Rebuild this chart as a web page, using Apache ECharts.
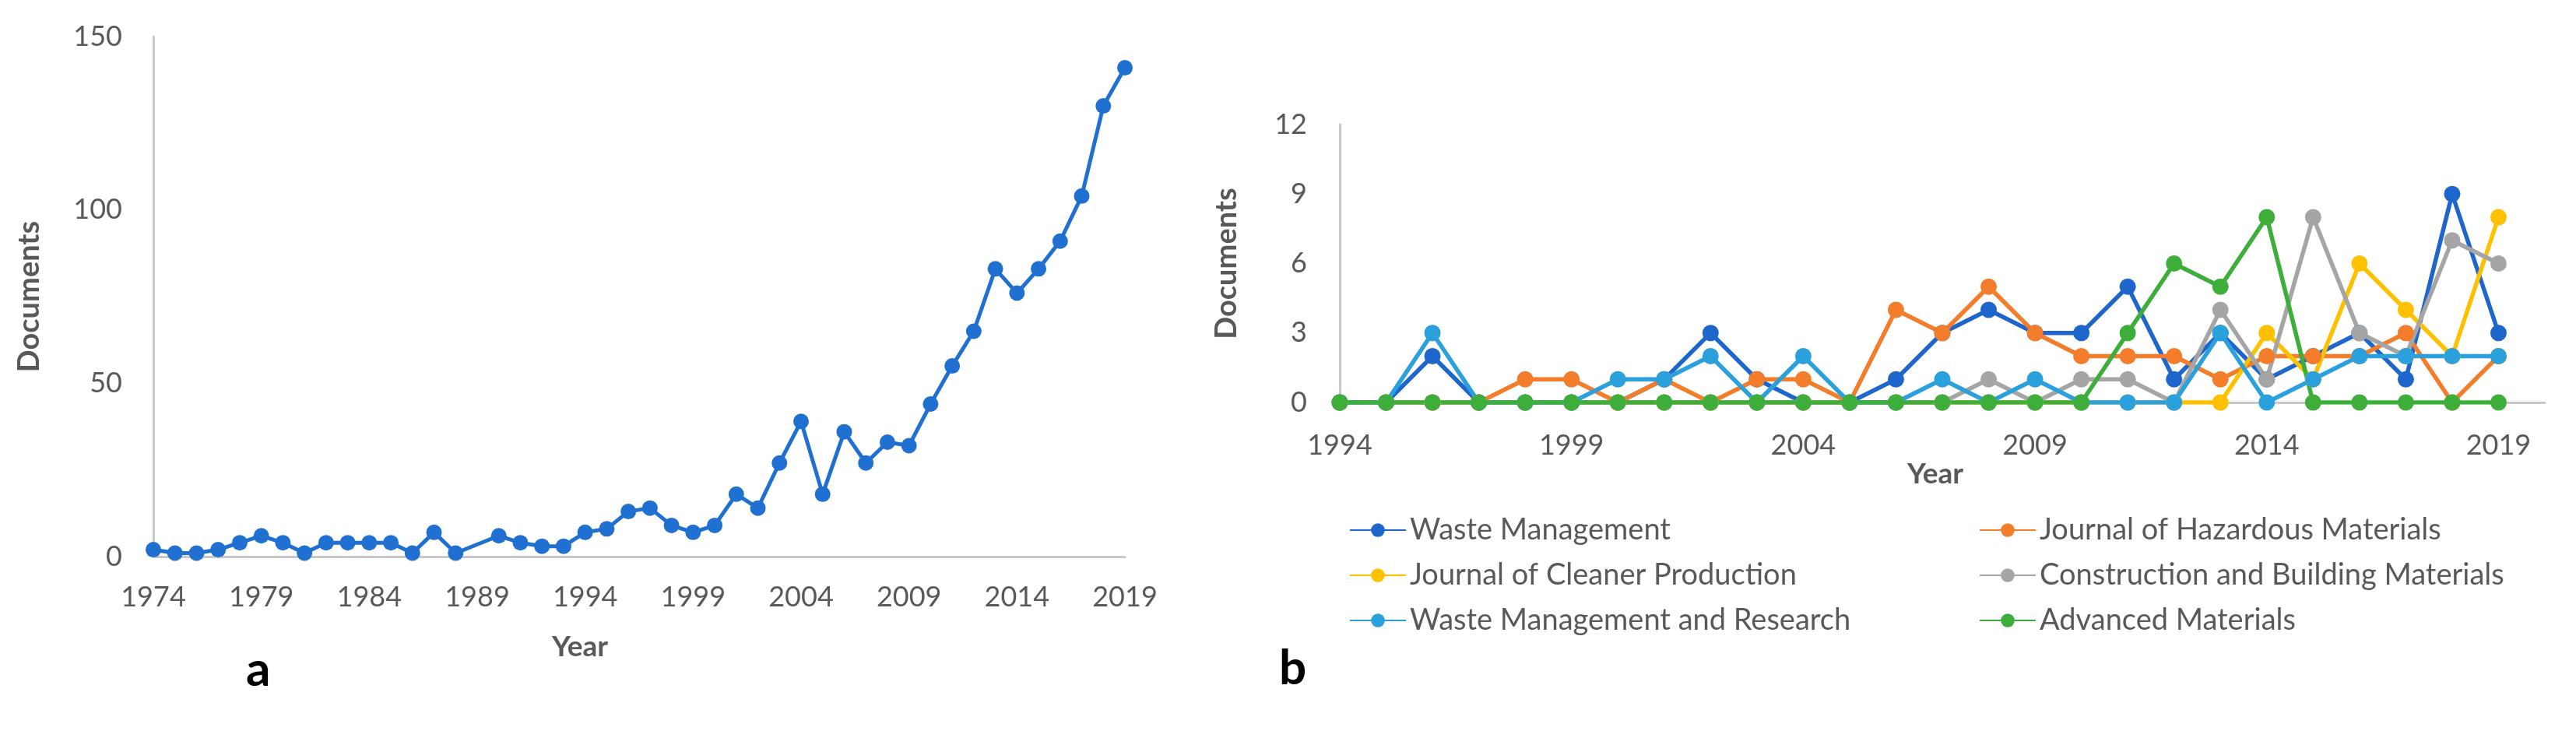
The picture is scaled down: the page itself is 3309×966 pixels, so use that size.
<!DOCTYPE html>
<html>
<head>
<meta charset="utf-8">
<script src="https://cdn.jsdelivr.net/npm/echarts@6/dist/echarts.min.js"></script>
<style>
html,body{margin:0;padding:0;background:#fff;}
#main{width:3309px;height:966px;}
</style>
</head>
<body>
<div id="main"></div>
<script>
// ---- Panel a: documents per year ----
var yearsA = [];
for (var y = 1974; y <= 2019; y++) yearsA.push(String(y));
var docsA = [2,1,1,2,4,6,4,1,4,4,4,4,1,7,1,null,6,4,3,3,7,8,13,14,9,7,9,18,14,27,39,18,36,27,33,32,44,55,65,83,76,83,91,104,130,141];

// ---- Panel b: documents per journal per year ----
var yearsB = [];
for (var y2 = 1994; y2 <= 2020; y2++) yearsB.push(String(y2));
var seriesNames = ['Waste Management','Journal of Hazardous Materials','Journal of Cleaner Production','Construction and Building Materials','Waste Management and Research','Advanced Materials'];
var wasteManagement   = [0,0,2,0,0,0,0,1,3,1,0,0,1,3,4,3,3,5,1,3,1,2,3,1,9,3];
var hazardousMat      = [0,0,0,0,1,1,0,1,0,1,1,0,4,3,5,3,2,2,2,1,2,2,2,3,0,2];
var cleanerProduction = [0,0,0,0,0,0,0,0,0,0,0,0,0,0,0,0,0,0,0,0,3,1,6,4,2,8];
var constructionMat   = [0,0,0,0,0,0,0,0,0,0,0,0,0,0,1,0,1,1,0,4,1,8,3,2,7,6];
var wasteMgmtResearch = [0,0,3,0,0,0,1,1,2,0,2,0,0,1,0,1,0,0,0,3,0,1,2,2,2,2];
var advancedMat       = [0,0,0,0,0,0,0,0,0,0,0,0,0,0,0,0,0,3,6,5,8,0,0,0,0,0];
var dataB = [wasteManagement, hazardousMat, cleanerProduction, constructionMat, wasteMgmtResearch, advancedMat];
var colorsB = ['#1f66cc','#f47d2b','#ffc000','#a5a5a5','#2aa0dd','#3dae3a'];

var FONT = 'Lato, "Open Sans", sans-serif';
var GREY = '#595959';
var AXIS = '#c8c8c8';

var chart = echarts.init(document.getElementById('main'), null, {renderer:'canvas'});

var seriesB = seriesNames.map(function(n, i){
  return {
    name: n, type: 'line', xAxisIndex: 1, yAxisIndex: 1,
    data: dataB[i], symbol: 'circle', symbolSize: 21, showAllSymbol: true,
    lineStyle: {width: 5.5, color: colorsB[i]},
    itemStyle: {color: colorsB[i]},
    animation: false
  };
});

var option = {
  backgroundColor: '#fff',
  animation: false,
  textStyle: {fontFamily: FONT},
  grid: [
    {left: 197, top: 47, width: 1248, height: 668, containLabel: false},
    {left: 1721, top: 160, width: 1548, height: 357, containLabel: false}
  ],
  xAxis: [
    {
      gridIndex: 0, type: 'category', data: yearsA, boundaryGap: false,
      axisLine: {lineStyle: {color: AXIS, width: 3}},
      axisTick: {show: false},
      axisLabel: {interval: 4, color: GREY, fontSize: 36, fontFamily: FONT, margin: 34},
      splitLine: {show: false},
      name: 'Year', nameLocation: 'middle', nameGap: 98,
      nameTextStyle: {color: GREY, fontSize: 37, fontWeight: 'bold', fontFamily: FONT, padding: [0, 152, 0, 0]}
    },
    {
      gridIndex: 1, type: 'category', data: yearsB, boundaryGap: false,
      axisLine: {lineStyle: {color: AXIS, width: 3}},
      axisTick: {show: false},
      axisLabel: {interval: 4, color: GREY, fontSize: 36, fontFamily: FONT, margin: 37},
      splitLine: {show: false},
      name: 'Year', nameLocation: 'middle', nameGap: 57,
      nameTextStyle: {color: GREY, fontSize: 37, fontWeight: 'bold', fontFamily: FONT, padding: [0, 18, 0, 0]}
    }
  ],
  yAxis: [
    {
      gridIndex: 0, type: 'value', min: 0, max: 150, interval: 50,
      axisLine: {show: true, lineStyle: {color: AXIS, width: 3}},
      axisTick: {show: false},
      axisLabel: {color: GREY, fontSize: 36, fontFamily: FONT, margin: 40},
      splitLine: {show: false},
      name: 'Documents', nameLocation: 'middle', nameGap: 140,
      nameTextStyle: {color: GREY, fontSize: 38, fontWeight: 'bold', fontFamily: FONT}
    },
    {
      gridIndex: 1, type: 'value', min: 0, max: 12, interval: 3,
      axisLine: {show: true, lineStyle: {color: AXIS, width: 3}},
      axisTick: {show: false},
      axisLabel: {color: GREY, fontSize: 36, fontFamily: FONT, margin: 42},
      splitLine: {show: false},
      name: 'Documents', nameLocation: 'middle', nameGap: 126,
      nameTextStyle: {color: GREY, fontSize: 38, fontWeight: 'bold', fontFamily: FONT}
    }
  ],
  legend: [
    {
      orient: 'vertical', left: 1728, top: 655,
      data: [seriesNames[0], seriesNames[2], seriesNames[4]],
      itemWidth: 72, itemHeight: 22, itemGap: 16,
      textStyle: {color: GREY, fontSize: 38, fontFamily: FONT, lineHeight: 42}
    },
    {
      orient: 'vertical', left: 2537, top: 655,
      data: [seriesNames[1], seriesNames[3], seriesNames[5]],
      itemWidth: 72, itemHeight: 22, itemGap: 16,
      textStyle: {color: GREY, fontSize: 38, fontFamily: FONT, lineHeight: 42}
    }
  ],
  graphic: [
    {type: 'text', left: 316, top: 830, style: {text: 'a', fill: '#000', font: 'bold 62px ' + FONT}},
    {type: 'text', left: 1643, top: 828, style: {text: 'b', fill: '#000', font: 'bold 62px ' + FONT}}
  ],
  series: [
    {
      name: 'Documents', type: 'line', xAxisIndex: 0, yAxisIndex: 0,
      data: docsA, connectNulls: true, symbol: 'circle', symbolSize: 20, showAllSymbol: true,
      lineStyle: {width: 5, color: '#1f70d1'}, itemStyle: {color: '#1f70d1'}
    }
  ].concat(seriesB)
};
chart.setOption(option);
</script>
</body>
</html>
